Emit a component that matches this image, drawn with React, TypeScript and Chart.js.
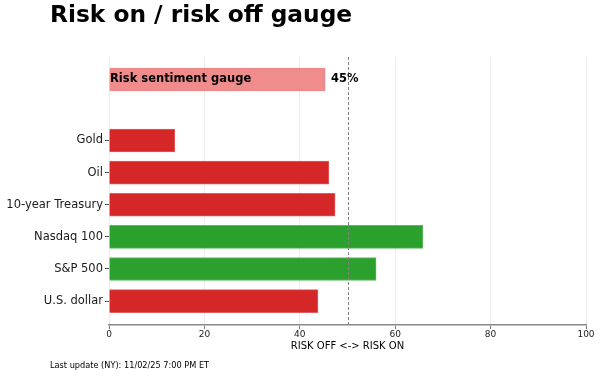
import React, { useEffect, useRef } from "react";
import { Chart, registerables } from "chart.js";
Chart.register(...registerables);

const TITLE = "Risk on / risk off gauge";
const FOOTER = "Last update (NY): 11/02/25 7:00 PM ET";
const X_TITLE = "RISK OFF <-> RISK ON";

const categories = ["U.S. dollar", "S&P 500", "Nasdaq 100", "10-year Treasury", "Oil", "Gold"];
const values = [43.8, 56.0, 65.8, 47.4, 46.1, 13.8];
const categoryPositions = [0, 1, 2, 3, 4, 5];

const gaugeLabel = "Risk sentiment gauge";
const gaugeValue = 45.3;
const gaugePosition = 6.9;

const neutralLine = 50;
const xTicks = [0, 20, 40, 60, 80, 100];

const RED = "rgb(214,39,40)";
const RED_EDGE = "rgba(214,39,40,0.75)";
const GREEN = "rgb(44,160,44)";
const GREEN_EDGE = "rgba(44,160,44,0.75)";
const GAUGE = "rgba(240,128,128,0.9)";
const FONT = "'DejaVu Sans', sans-serif";

export default function App() {
  const ref = useRef<HTMLCanvasElement | null>(null);
  useEffect(() => {
    document.body.style.margin = "0";
    const canvas = ref.current!;
    const barData = categories.map((_, i) => ({ x: values[i], y: categoryPositions[i] }));
    const barColors = values.map((v) => (v >= neutralLine ? GREEN : RED));
    const barEdges = values.map((v) => (v >= neutralLine ? GREEN_EDGE : RED_EDGE));

    const overlay = {
      id: "overlay",
      afterDatasetsDraw(chart: any) {
        const { ctx, chartArea, scales } = chart;
        const xs = scales.x;
        const ys = scales.y;
        ctx.save();
        const xn = xs.getPixelForValue(neutralLine);
        ctx.strokeStyle = "#808080";
        ctx.lineWidth = 1;
        ctx.setLineDash([3, 2]);
        ctx.beginPath();
        ctx.moveTo(Math.round(xn) + 0.5, chartArea.top);
        ctx.lineTo(Math.round(xn) + 0.5, chartArea.bottom);
        ctx.stroke();
        ctx.setLineDash([]);
        const yg = ys.getPixelForValue(gaugePosition);
        ctx.fillStyle = "#000";
        ctx.font = `bold 11.5px ${FONT}`;
        ctx.textBaseline = "middle";
        ctx.textAlign = "left";
        ctx.fillText(gaugeLabel, xs.getPixelForValue(0) + 1, yg);
        ctx.fillText(`${Math.round(gaugeValue)}%`, xs.getPixelForValue(gaugeValue) + 6, yg);
        ctx.restore();
      },
      afterDraw(chart: any) {
        const { ctx } = chart;
        ctx.save();
        ctx.fillStyle = "#000";
        ctx.textAlign = "left";
        ctx.textBaseline = "middle";
        ctx.font = `bold 23.3px ${FONT}`;
        ctx.fillText(TITLE, 50, 16);
        ctx.font = `8.2px ${FONT}`;
        ctx.fillText(FOOTER, 50, 366);
        ctx.restore();
      },
    };

    const chart = new Chart(canvas, {
      type: "bar",
      data: {
        datasets: [
          {
            data: barData as any,
            backgroundColor: barColors,
            borderColor: barEdges,
            borderWidth: 1,
            barThickness: 23,
          } as any,
          {
            data: [{ x: gaugeValue, y: gaugePosition }] as any,
            backgroundColor: GAUGE,
            borderColor: GAUGE,
            borderWidth: 1,
            barThickness: 23,
          } as any,
        ],
      },
      options: {
        indexAxis: "y",
        grouped: false,
        animation: false,
        responsive: false,
        maintainAspectRatio: false,
        layout: { padding: { top: 57, right: 14, bottom: 24, left: 0 } },
        plugins: { legend: { display: false }, tooltip: { enabled: false }, title: { display: false } },
        scales: {
          y: {
            type: "linear",
            offset: false,
            min: -0.75,
            max: 7.6,
            afterBuildTicks: (s: any) => {
              s.ticks = categoryPositions.map((v) => ({ value: v }));
            },
            afterFit: (s: any) => {
              s.width = 109;
            },
            ticks: {
              autoSkip: false,
              color: "#1a1a1a",
              font: { family: FONT, size: 11.5 },
              padding: 2,
              callback: (v: any) => {
                const i = categoryPositions.indexOf(Number(v));
                return i >= 0 ? categories[i] : "";
              },
            },
            grid: { offset: false, drawOnChartArea: false, drawTicks: true, tickLength: 4, color: "#555" },
            border: { display: false },
          },
          x: {
            type: "linear",
            min: 0,
            max: 100,
            afterBuildTicks: (s: any) => {
              s.ticks = xTicks.map((v) => ({ value: v }));
            },
            ticks: { color: "#222", font: { family: FONT, size: 9 }, padding: 0 },
            grid: { color: "rgba(0,0,0,0.07)", tickColor: "#777", tickLength: 4, lineWidth: 1 },
            border: { color: "#888", width: 1.5 },
            title: {
              display: true,
              text: X_TITLE,
              color: "#000",
              font: { family: FONT, size: 10 },
              padding: { top: 0, bottom: 0 },
            },
          },
        },
      },
      plugins: [overlay],
    } as any);
    return () => chart.destroy();
  }, []);
  return <canvas ref={ref} width={600} height={376} style={{ display: "block" }} />;
}
